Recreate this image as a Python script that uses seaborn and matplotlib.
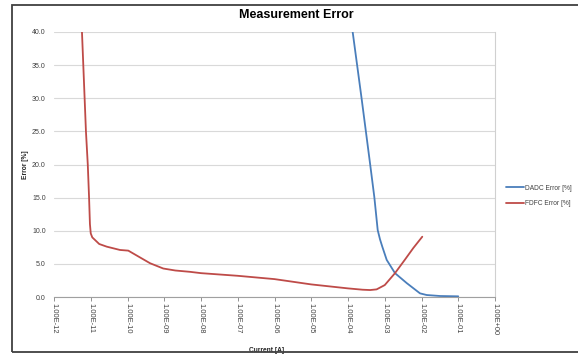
import numpy as np
import pandas as pd
import seaborn as sns
import matplotlib.pyplot as plt
from matplotlib.patches import Rectangle
from matplotlib.ticker import FixedLocator, NullLocator

# ---- data ----
fdfc_current = [5.0e-12, 5.77e-12, 7.4e-12, 8.3e-12, 9.0e-12, 9.5e-12, 1.0e-11, 1.1e-11,
                1.31e-11, 1.7e-11, 2.72e-11, 6.25e-11, 1.05e-10, 2.0e-10, 4.1e-10, 9.4e-10,
                2.0e-09, 5.0e-09, 1.0e-08, 1.0e-07, 1.0e-06, 1.0e-05, 1.0e-04, 2.5e-04,
                4.0e-04, 6.0e-04, 1.0e-03, 1.9e-03, 3.5e-03, 6.0e-03, 1.05e-02]
fdfc_error = [46.0, 40.0, 25.0, 20.0, 15.0, 11.0, 9.6, 9.0,
              8.6, 8.0, 7.6, 7.1, 7.0, 6.1, 5.1, 4.3,
              4.0, 3.8, 3.6, 3.2, 2.7, 1.9, 1.3, 1.1,
              1.05, 1.15, 1.8, 3.6, 5.6, 7.4, 9.1]

dadc_current = [1.0e-04, 1.34e-04, 2.34e-04, 3.97e-04, 5.2e-04, 6.43e-04, 7.43e-04,
                8.57e-04, 1.13e-03, 1.9e-03, 3.96e-03, 9.1e-03, 1.38e-02, 3.2e-02, 1.0e-01]
dadc_error = [45.5, 40.0, 30.0, 20.2, 15.1, 10.1, 8.7,
              7.6, 5.6, 3.6, 2.1, 0.55, 0.3, 0.15, 0.1]

series_names = ["DADC Error [%]", "FDFC Error [%]"]
series_colors = ["#4A7EBB", "#BE4B48"]
x_ticks = [10.0 ** e for e in range(-12, 1)]
x_tick_labels = ["1.00E-12", "1.00E-11", "1.00E-10", "1.00E-09", "1.00E-08", "1.00E-07",
                 "1.00E-06", "1.00E-05", "1.00E-04", "1.00E-03", "1.00E-02", "1.00E-01",
                 "1.00E+00"]
y_ticks = [0, 5, 10, 15, 20, 25, 30, 35, 40]

df = pd.concat([
    pd.DataFrame({"Current": dadc_current, "Error": dadc_error, "Series": series_names[0]}),
    pd.DataFrame({"Current": fdfc_current, "Error": fdfc_error, "Series": series_names[1]}),
], ignore_index=True)

sns.set_style("white")
plt.rcParams['font.family'] = ['Liberation Sans', 'DejaVu Sans']

fig = plt.figure(figsize=(5.78, 3.54), dpi=100)
ax = fig.add_axes([54 / 578, 1 - 297 / 354, (495 - 54) / 578, (297 - 32) / 354])

sns.lineplot(data=df, x="Current", y="Error", hue="Series", hue_order=series_names,
             palette=series_colors, sort=False, linewidth=1.3, ax=ax, estimator=None)
for ln in ax.get_lines():
    ln.set_solid_joinstyle("round")

ax.set_xscale("log")
ax.set_xlim(1e-12, 1e0)
ax.set_ylim(0, 40)
ax.xaxis.set_major_locator(FixedLocator(x_ticks))
ax.xaxis.set_minor_locator(NullLocator())
ax.set_xticklabels(x_tick_labels, rotation=-90, fontsize=5.4, color="#404040")
ax.set_yticks(y_ticks)
ax.set_yticklabels([f"{v:.1f}" for v in y_ticks], fontsize=5.0, color="#404040")
ax.tick_params(axis="x", length=3, width=0.6, color="#808080", direction="out", pad=1, bottom=True)
ax.tick_params(axis="y", length=0, pad=6)
ax.grid(axis="y", color="#D9D9D9", linewidth=0.8)
ax.grid(axis="x", visible=False)
ax.set_axisbelow(True)

for side in ["left", "top"]:
    ax.spines[side].set_visible(False)
ax.spines["right"].set_color("#D0D0D0")
ax.spines["right"].set_linewidth(0.8)
ax.spines["bottom"].set_color("#A0A0A0")
ax.spines["bottom"].set_linewidth(0.8)

ax.set_xlabel("Current [A]", fontsize=4.8, fontweight="bold", labelpad=0)
ax.xaxis.set_label_coords((267 - 54) / 441, -(347 - 297) / 265)
ax.set_ylabel("Error [%]", fontsize=4.8, fontweight="bold")
ax.yaxis.set_label_coords(-(54 - 29) / 441, (297 - 165) / 265)

fig.text(296 / 578, 1 - 15 / 354, "Measurement Error", ha="center", va="center",
         fontsize=9, fontweight="bold", color="#000000")

leg = ax.legend(loc="center left", bbox_to_anchor=(1.02, (297 - 196) / 265), frameon=False,
                fontsize=4.8, handlelength=2.6, handletextpad=0.2, labelspacing=1.3,
                borderaxespad=0)
for t in leg.get_texts():
    t.set_color("#404040")

# outer chart frame
fig.add_artist(Rectangle((12 / 578, 1 - 352 / 354), 1.2, (352 - 5) / 354,
                         transform=fig.transFigure, fill=False, edgecolor="#404040",
                         linewidth=1.3, clip_on=False))

fig.savefig("out.png", dpi=100)
